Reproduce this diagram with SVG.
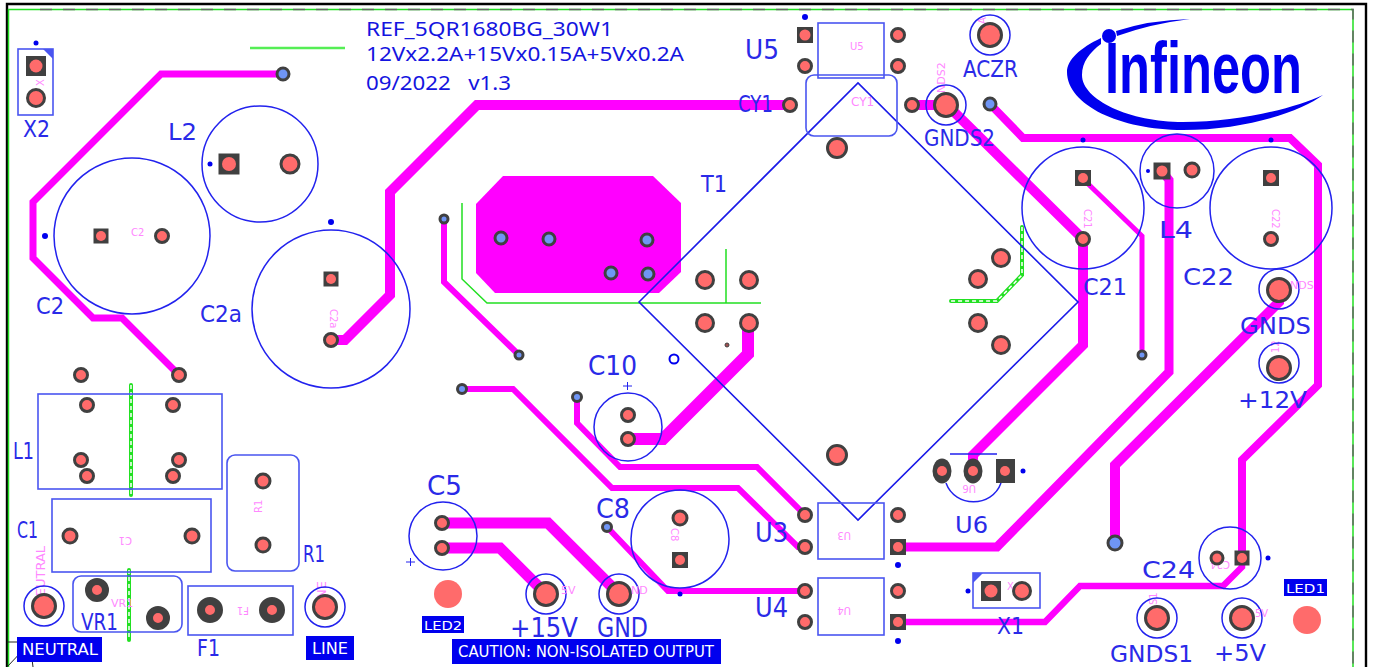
<svg xmlns="http://www.w3.org/2000/svg" width="1373" height="667" viewBox="0 0 1373 667">
<style>
.t{fill:none;stroke:#ff00ff;stroke-linejoin:miter;stroke-linecap:butt}
.o{fill:none;stroke:#2222ee;stroke-width:1.5}
.b{fill:none;stroke:#4a55f0;stroke-width:1.6}
.p{fill:#ff6b6b;stroke:#404040;stroke-width:3}
.v{fill:#6f95f5;stroke:#404040;stroke-width:3}
.d{fill:#404040}
.k{fill:#ff6b6b}
.dot{fill:#0000ee}
.g{fill:none;stroke:#22e022;stroke-width:1.5}
.gd{fill:none;stroke:#22e022;stroke-width:4;stroke-linecap:round}
.gw{fill:none;stroke:#ffffff;stroke-width:1.5;stroke-dasharray:4 3}
text{font-family:"DejaVu Sans","Liberation Sans",sans-serif}
.l{font-size:23px;fill:#2a2ae8}
.xl{font-size:27px;fill:#2a2ae8}
.top{font-family:"Noto Sans","Liberation Sans",sans-serif;font-size:20px;fill:#1414e0}
.m{font-size:10px;fill:#ff88ff}
.w{font-size:15px;fill:#ffffff}
</style>
<rect width="1373" height="667" fill="#ffffff"/>
<g id="frame">
<path d="M7,667V4H1366V667" fill="none" stroke="#000" stroke-width="2.4"/>
<path d="M8.5,667V9.5H1353V667" fill="none" stroke="#22e022" stroke-width="1.5"/>
<path d="M40,9.5H1353V667" fill="none" stroke="#666" stroke-width="1.5" stroke-dasharray="12 11"/>
<path d="M7,642H17Q33,650 33,667M7,667L25,648" fill="none" stroke="#222" stroke-width="1"/>
<path d="M250,48H345" fill="none" stroke="#55ee55" stroke-width="2.5"/>
</g>
<g id="connectors">
<path class="t" stroke-width="7" d="M283,74H161L33,202V258L93,318H122L179,375"/>
<path class="t" stroke-width="10" d="M790,105H477L390,192V295L345,340H331"/>
<path class="t" stroke-width="6" d="M444,219V282L519,355"/>
<path d="M503,176H653L681,203V272L659,293H495L476,273V204Z" fill="#ff00ff"/>
<path class="t" stroke-width="10" d="M912,105H947L1083,239V345L973,455V471"/>
<path class="t" stroke-width="8" d="M990,104L1023,138H1290L1318,165V385L1242,460V557"/>
<path class="t" stroke-width="5" d="M1082,178L1142,236V355"/>
<path class="t" stroke-width="9" d="M1162,171L1169,180V372L997,547H898"/>
<path class="t" stroke-width="10" d="M1279,290V302L1115,465V543"/>
<path class="t" stroke-width="6.5" d="M898,622H1045L1080,586H1223L1242,567V557"/>
<path class="t" stroke-width="12" d="M628,439H663L748,354V323"/>
<path class="t" stroke-width="6" d="M462,389H513L612,488H738L798,547H805"/>
<path class="t" stroke-width="6" d="M577,397V423L620,467H757L805,515"/>
<path class="t" stroke-width="6" d="M607,527L668,591H805"/>
<path class="t" stroke-width="11" d="M442,523H548L619,594"/>
<path class="t" stroke-width="11" d="M442,548H500L546,594"/>
</g>
<g id="silk-green">
<path class="g" d="M462,203V279L487,303H761M726,249V303"/>
<path class="gd" d="M131,385V495"/><path class="gw" d="M131,385V495"/>
<path class="gd" d="M129,570V640"/><path class="gw" d="M129,570V640"/>
<path class="gd" d="M1022,227V275L997,301H951"/><path class="gw" d="M1022,227V275L997,301H951"/>
</g>
<g id="logo">
<text transform="translate(1105,93) scale(0.7036,1)" font-weight="700" fill="#0000ee" style="font-family:'Liberation Sans',sans-serif;font-size:72px">Infineon</text>
<path fill="#0000ee" d="M1190,19Q1150,20 1116,31L1117,36Q1150,24 1190,19ZM1101,38C1080,48 1067,60 1067,72C1067,105 1120,130 1183,130C1245,130 1300,112 1323,95C1295,108 1240,122 1183,122C1130,122 1082,100 1082,75C1082,62 1090,52 1101,44Z"/>
<circle cx="1109" cy="36" r="7" fill="#0000ee"/>
</g>
<g id="title">
<text class="top" x="366" y="36" textLength="247" lengthAdjust="spacingAndGlyphs">REF_5QR1680BG_30W1</text>
<text class="top" x="366" y="61" textLength="318" lengthAdjust="spacingAndGlyphs">12Vx2.2A+15Vx0.15A+5Vx0.2A</text>
<text class="top" x="366" y="90" textLength="145" lengthAdjust="spacingAndGlyphs" xml:space="preserve">09/2022   v1.3</text>
</g>
<g id="T1">
<path d="M639,302L858,83L1078,302L858,520Z" fill="none" stroke="#1a1ae8" stroke-width="1.6"/>
<circle class="p" cx="705" cy="280" r="8.5"/><circle class="p" cx="749" cy="280" r="8.5"/>
<circle class="p" cx="705" cy="323" r="8.5"/><circle class="p" cx="749" cy="323" r="8.5"/>
<circle class="p" cx="1001" cy="258" r="8.5"/><circle class="p" cx="978" cy="279" r="8.5"/>
<circle class="p" cx="978" cy="323" r="8.5"/><circle class="p" cx="1001" cy="345" r="8.5"/>
<circle class="p" cx="837" cy="148" r="9.5"/><circle class="p" cx="837" cy="455" r="9.5"/>
<circle cx="674" cy="359" r="4.5" fill="#fff" stroke="#0000ee" stroke-width="2"/>
<circle cx="727" cy="345" r="2" fill="#a05050" stroke="#404040"/>
<text class="l" x="701" y="192" textLength="26" lengthAdjust="spacingAndGlyphs">T1</text>
</g>
<g id="vias">
<circle class="v" cx="283" cy="74" r="6"/><circle class="v" cx="444" cy="219" r="4"/><circle class="v" cx="519" cy="355" r="4"/>
<circle class="v" cx="501" cy="238" r="6"/><circle class="v" cx="549" cy="239" r="6"/><circle class="v" cx="647" cy="240" r="6"/>
<circle class="v" cx="611" cy="273" r="6"/><circle class="v" cx="648" cy="274" r="6"/>
<circle class="v" cx="462" cy="389" r="4.5"/><circle class="v" cx="577" cy="397" r="4.5"/><circle class="v" cx="607" cy="527" r="4.5"/>
<circle class="v" cx="990" cy="104" r="6"/><circle class="v" cx="1142" cy="355" r="4"/><circle class="v" cx="1115" cy="543" r="7"/>
</g>
<g id="X2">
<rect class="b" x="18" y="49" width="35" height="66"/><path d="M43,49H53V59Z" fill="#4a55f0"/>
<circle class="dot" cx="36" cy="43" r="2.5"/>
<rect class="d" x="26" y="56" width="20" height="20"/><circle class="k" cx="36" cy="66" r="6.5"/>
<text class="m" x="40" y="90" transform="rotate(-90 40 86)">X</text>
<circle class="p" cx="36" cy="98" r="8.5"/>
<text class="l" x="23" y="137" textLength="27" lengthAdjust="spacingAndGlyphs">X2</text>
</g>
<g id="L2">
<circle class="o" cx="260" cy="164" r="58"/><circle class="dot" cx="210" cy="164" r="2.5"/>
<rect class="d" x="218.500" y="153.500" width="21" height="21"/><circle class="k" cx="229" cy="164" r="7"/>
<circle class="p" cx="290" cy="164" r="9"/>
<text class="l" x="168" y="140" textLength="29" lengthAdjust="spacingAndGlyphs">L2</text>
</g>
<g id="C2">
<circle class="o" cx="132" cy="236" r="78"/><circle class="dot" cx="45" cy="236" r="3"/>
<rect class="d" x="93.500" y="228.500" width="15" height="15"/><circle class="k" cx="101" cy="236" r="5"/>
<circle class="p" cx="162" cy="236" r="6.500"/>
<text class="m" x="131" y="236">C2</text>
<text class="l" x="36" y="314" textLength="28" lengthAdjust="spacingAndGlyphs">C2</text>
</g>
<g id="C2a">
<circle class="o" cx="331" cy="309" r="79"/><circle class="dot" cx="331" cy="222" r="3"/>
<rect class="d" x="323.500" y="271.500" width="15" height="15"/><circle class="k" cx="331" cy="279" r="5"/>
<text class="m" transform="translate(330,309) rotate(90)">C2a</text>
<circle class="p" cx="331" cy="340" r="6.500"/>
<text class="l" x="200" y="322" textLength="42" lengthAdjust="spacingAndGlyphs">C2a</text>
</g>
<g id="L1">
<rect class="b" x="38" y="394" width="184" height="95"/>
<circle class="p" cx="81" cy="375" r="6.500"/><circle class="p" cx="179" cy="375" r="6.500"/>
<circle class="p" cx="87" cy="405" r="6.500"/><circle class="p" cx="173" cy="405" r="6.500"/>
<circle class="p" cx="81" cy="460" r="6.500"/><circle class="p" cx="179" cy="460" r="6.500"/>
<circle class="p" cx="87" cy="476" r="6.500"/><circle class="p" cx="173" cy="476" r="6.500"/>
<text class="l" x="13" y="459" textLength="21" lengthAdjust="spacingAndGlyphs">L1</text>
</g>
<g id="C1">
<rect class="b" x="52" y="499" width="159" height="73"/>
<circle class="p" cx="70" cy="536" r="7"/><circle class="p" cx="192" cy="536" r="7"/>
<text class="m" transform="translate(132,537) rotate(180)">C1</text>
<text class="l" x="17" y="538" textLength="21" lengthAdjust="spacingAndGlyphs">C1</text>
</g>
<g id="R1">
<rect class="b" x="227" y="455" width="72" height="116" rx="8"/>
<circle class="p" cx="263" cy="481" r="7"/><circle class="p" cx="263" cy="545" r="7"/>
<text class="m" transform="translate(262,513) rotate(-90)">R1</text>
<text class="l" x="303" y="562" textLength="22" lengthAdjust="spacingAndGlyphs">R1</text>
</g>
<g id="VR1">
<rect class="b" x="73" y="576" width="109" height="56" rx="8"/>
<circle cx="97" cy="590" r="8.500" fill="#ff6b6b" stroke="#404040" stroke-width="7"/>
<circle cx="158" cy="618" r="8.500" fill="#ff6b6b" stroke="#404040" stroke-width="7"/>
<text class="m" x="111" y="607" style="font-size:11px">VR1</text>
<text class="l" x="81" y="630" textLength="37" lengthAdjust="spacingAndGlyphs">VR1</text>
</g>
<g id="F1">
<rect class="b" x="188" y="586" width="105" height="49"/>
<circle cx="210" cy="610" r="9" fill="#ff6b6b" stroke="#404040" stroke-width="8"/>
<circle cx="272" cy="610" r="9" fill="#ff6b6b" stroke="#404040" stroke-width="8"/>
<text class="m" transform="translate(249,607) rotate(180)">F1</text>
<text class="l" x="197" y="656" textLength="23" lengthAdjust="spacingAndGlyphs">F1</text>
</g>
<g id="NEUTRAL">
<text class="m" style="font-size:13px" transform="translate(45,606) rotate(-90)">NEUTRAL</text>
<circle class="o" cx="44" cy="606" r="20"/><circle class="p" cx="44" cy="606" r="11.500"/>
<rect x="17" y="637" width="85" height="25" fill="#0000ee"/>
<text class="w" x="22" y="655" textLength="76" lengthAdjust="spacingAndGlyphs">NEUTRAL</text>
</g>
<g id="LINE">
<text class="m" style="font-size:13px" transform="translate(326,610) rotate(-90)">LINE</text>
<circle class="o" cx="325" cy="607" r="20"/><circle class="p" cx="325" cy="607" r="11.500"/>
<rect x="306" y="636" width="48" height="24" fill="#0000ee"/>
<text class="w" x="312" y="654" textLength="36" lengthAdjust="spacingAndGlyphs">LINE</text>
</g>
<g id="C5">
<circle class="o" cx="443" cy="536" r="34"/>
<circle class="p" cx="442" cy="523" r="6.500"/><circle class="p" cx="442" cy="548" r="6.500"/>
<path d="M406,562H415M410.500,558V566" stroke="#2222ee" fill="none"/>
<text class="xl" x="427" y="495" textLength="35" lengthAdjust="spacingAndGlyphs">C5</text>
</g>
<g id="LED2">
<circle class="k" cx="448" cy="594" r="14"/>
<rect x="422" y="616" width="42" height="17" fill="#0000ee"/>
<text class="w" x="424" y="630" style="font-size:13px" textLength="38" lengthAdjust="spacingAndGlyphs">LED2</text>
</g>
<g id="C10">
<circle class="o" cx="628" cy="427" r="34"/>
<path d="M623,386H632M627.500,382V390" stroke="#2222ee" fill="none"/>
<circle class="p" cx="628" cy="415" r="6.500"/><circle class="p" cx="628" cy="439" r="6.500"/>
<text class="xl" x="588" y="375" textLength="49" lengthAdjust="spacingAndGlyphs">C10</text>
</g>
<g id="C8">
<circle class="o" cx="680" cy="539" r="49"/><circle class="dot" cx="680" cy="594" r="2.500"/>
<text class="m" transform="translate(671,528) rotate(90)">C8</text>
<circle class="p" cx="680" cy="518" r="7"/>
<rect class="d" x="672" y="552" width="16" height="16"/><circle class="k" cx="680" cy="560" r="5"/>
<text class="xl" x="596" y="518" textLength="34" lengthAdjust="spacingAndGlyphs">C8</text>
</g>
<g id="TP15V">
<circle class="o" cx="546" cy="594" r="20"/><circle class="p" cx="546" cy="594" r="11.500"/>
<text class="m" x="561" y="594" style="font-size:11px">5V</text>
<text class="xl" x="510" y="637" textLength="68" lengthAdjust="spacingAndGlyphs">+15V</text>
</g>
<g id="GND">
<circle class="o" cx="619" cy="594" r="20"/><circle class="p" cx="619" cy="594" r="11.500"/>
<text class="m" x="631" y="594" style="font-size:11px">ND</text>
<text class="xl" x="597" y="637" textLength="51" lengthAdjust="spacingAndGlyphs">GND</text>
</g>
<g id="CAUTION">
<rect x="452" y="639" width="269" height="25" fill="#0000ee"/>
<text class="w" x="458" y="657" textLength="256" lengthAdjust="spacingAndGlyphs">CAUTION: NON-ISOLATED OUTPUT</text>
</g>
<g id="U5">
<rect class="b" x="818" y="23" width="66" height="55"/>
<circle class="dot" cx="805" cy="17" r="3"/>
<rect class="d" x="797" y="27" width="16" height="16"/><circle class="k" cx="805" cy="35" r="5.500"/>
<circle class="p" cx="805" cy="66" r="6.500"/><circle class="p" cx="898" cy="35" r="6.500"/><circle class="p" cx="898" cy="66" r="6.500"/>
<text class="m" x="850" y="50">U5</text>
<text class="xl" x="745" y="59" textLength="34" lengthAdjust="spacingAndGlyphs">U5</text>
</g>
<g id="CY1">
<rect class="b" x="806" y="75" width="91" height="61" rx="8"/>
<circle class="p" cx="790" cy="105" r="6.500"/><circle class="p" cx="912" cy="105" r="6.500"/>
<text class="m" x="851" y="106" style="font-size:12px">CY1</text>
<text class="l" x="738" y="112" textLength="35" lengthAdjust="spacingAndGlyphs">CY1</text>
</g>
<g id="ACZR">
<text class="m" transform="translate(986,24) rotate(-90)">A</text>
<circle class="o" cx="990" cy="35" r="20"/><circle class="p" cx="990" cy="35" r="11.500"/>
<text class="l" x="963" y="77" textLength="55" lengthAdjust="spacingAndGlyphs">ACZR</text>
</g>
<g id="GNDS2">
<text class="m" transform="translate(945,93) rotate(-90)" style="font-size:11px">NDS2</text>
<circle class="o" cx="946" cy="105" r="20"/><circle class="p" cx="946" cy="105" r="11.500"/>
<text class="l" x="924" y="146" textLength="71" lengthAdjust="spacingAndGlyphs">GNDS2</text>
</g>
<g id="C21">
<circle class="o" cx="1083" cy="208" r="61"/><circle class="dot" cx="1083" cy="140" r="2.500"/>
<rect class="d" x="1075" y="170" width="16" height="16"/><circle class="k" cx="1083" cy="178" r="5"/>
<text class="m" transform="translate(1084,209) rotate(90)">C21</text>
<circle class="p" cx="1083" cy="239" r="6.500"/>
<text class="l" x="1083" y="295" textLength="44" lengthAdjust="spacingAndGlyphs">C21</text>
</g>
<g id="L4">
<circle class="o" cx="1177" cy="171" r="37"/><circle class="dot" cx="1148" cy="171" r="2"/>
<rect class="d" x="1153.500" y="162.500" width="17" height="17"/><circle class="k" cx="1162" cy="171" r="5.500"/>
<circle class="p" cx="1192" cy="170" r="7"/>
<text class="l" x="1159" y="238" textLength="34" lengthAdjust="spacingAndGlyphs">L4</text>
</g>
<g id="C22">
<circle class="o" cx="1271" cy="208" r="61"/><circle class="dot" cx="1271" cy="140" r="2.500"/>
<rect class="d" x="1263" y="170" width="16" height="16"/><circle class="k" cx="1271" cy="178" r="5"/>
<text class="m" transform="translate(1272,209) rotate(90)">C22</text>
<circle class="p" cx="1271" cy="239" r="6.500"/>
<text class="l" x="1183" y="285" textLength="51" lengthAdjust="spacingAndGlyphs">C22</text>
</g>
<g id="GNDS">
<circle class="o" cx="1279" cy="289" r="20"/>
<text class="m" x="1290" y="289" style="font-size:11px">NDS</text>
<circle class="p" cx="1279" cy="290" r="11.500"/>
<text class="l" x="1240" y="334" textLength="71" lengthAdjust="spacingAndGlyphs">GNDS</text>
</g>
<g id="TP12V">
<text class="m" transform="translate(1279,353) rotate(-90)">12</text>
<circle class="o" cx="1279" cy="363" r="20"/><circle class="p" cx="1279" cy="368" r="11.500"/>
<text class="l" x="1238" y="408" textLength="69" lengthAdjust="spacingAndGlyphs">+12V</text>
</g>
<g id="U6">
<path class="o" d="M950,454H997M946,483C955,508 992,508 1001,483"/>
<ellipse class="d" cx="942" cy="471" rx="9.500" ry="12.500"/><circle class="k" cx="942" cy="471" r="5"/>
<ellipse class="d" cx="973" cy="471" rx="9.500" ry="12.500"/><circle class="k" cx="973" cy="471" r="5"/>
<rect class="d" x="996" y="459" width="19" height="24"/><circle class="k" cx="1005" cy="471" r="5"/>
<circle class="dot" cx="1023" cy="471" r="2.500"/>
<text class="m" transform="translate(976,485) rotate(180)">U6</text>
<text class="l" x="955" y="533" textLength="33" lengthAdjust="spacingAndGlyphs">U6</text>
</g>
<g id="U3">
<rect class="b" x="818" y="503" width="66" height="56"/>
<circle class="p" cx="805" cy="515" r="6.500"/><circle class="p" cx="805" cy="547" r="6.500"/><circle class="p" cx="898" cy="515" r="6.500"/>
<rect class="d" x="890" y="539" width="16" height="16"/><circle class="k" cx="898" cy="547" r="5"/>
<circle class="dot" cx="898" cy="565" r="3"/>
<text class="m" transform="translate(851,532) rotate(180)">U3</text>
<text class="xl" x="755" y="542" textLength="33" lengthAdjust="spacingAndGlyphs">U3</text>
</g>
<g id="U4">
<rect class="b" x="818" y="578" width="66" height="57"/>
<circle class="p" cx="805" cy="591" r="6.500"/><circle class="p" cx="805" cy="622" r="6.500"/><circle class="p" cx="898" cy="591" r="6.500"/>
<rect class="d" x="890" y="614" width="16" height="16"/><circle class="k" cx="898" cy="622" r="5"/>
<circle class="dot" cx="898" cy="641" r="3"/>
<text class="m" transform="translate(851,607) rotate(180)">U4</text>
<text class="xl" x="755" y="617" textLength="33" lengthAdjust="spacingAndGlyphs">U4</text>
</g>
<g id="X1">
<rect class="b" x="973" y="573" width="67" height="35"/><path d="M973,573H983L973,583Z" fill="#4a55f0"/>
<circle class="dot" cx="968" cy="591" r="2.500"/>
<rect class="d" x="981" y="581" width="20" height="20"/><circle class="k" cx="991" cy="591" r="6.500"/>
<text class="m" x="1007" y="590">X</text>
<circle class="p" cx="1022" cy="591" r="8.500"/>
<text class="l" x="997" y="634" textLength="27" lengthAdjust="spacingAndGlyphs">X1</text>
</g>
<g id="C24">
<circle class="o" cx="1230" cy="558" r="31"/><circle class="dot" cx="1268" cy="558" r="2.500"/>
<text class="m" transform="translate(1230,561) rotate(180)">C24</text>
<circle class="p" cx="1217" cy="558" r="6"/>
<rect class="d" x="1234.500" y="550.500" width="15" height="15"/><circle class="k" cx="1242" cy="558" r="5"/>
<text class="l" x="1142" y="578" textLength="53" lengthAdjust="spacingAndGlyphs">C24</text>
</g>
<g id="GNDS1">
<text class="m" transform="translate(1157,605) rotate(-90)">S1</text>
<circle class="o" cx="1157" cy="618" r="20"/><circle class="p" cx="1157" cy="618" r="11.500"/>
<text class="l" x="1110" y="662" textLength="83" lengthAdjust="spacingAndGlyphs">GNDS1</text>
</g>
<g id="TP5V">
<circle class="o" cx="1242" cy="618" r="20"/><circle class="p" cx="1242" cy="618" r="11.500"/>
<text class="m" x="1255" y="617">5V</text>
<text class="l" x="1214" y="661" textLength="52" lengthAdjust="spacingAndGlyphs">+5V</text>
</g>
<g id="LED1">
<rect x="1284" y="579" width="43" height="17" fill="#0000ee"/>
<text class="w" x="1286" y="593" style="font-size:13px" textLength="39" lengthAdjust="spacingAndGlyphs">LED1</text>
<circle class="k" cx="1307" cy="620" r="14"/>
</g>
</svg>
